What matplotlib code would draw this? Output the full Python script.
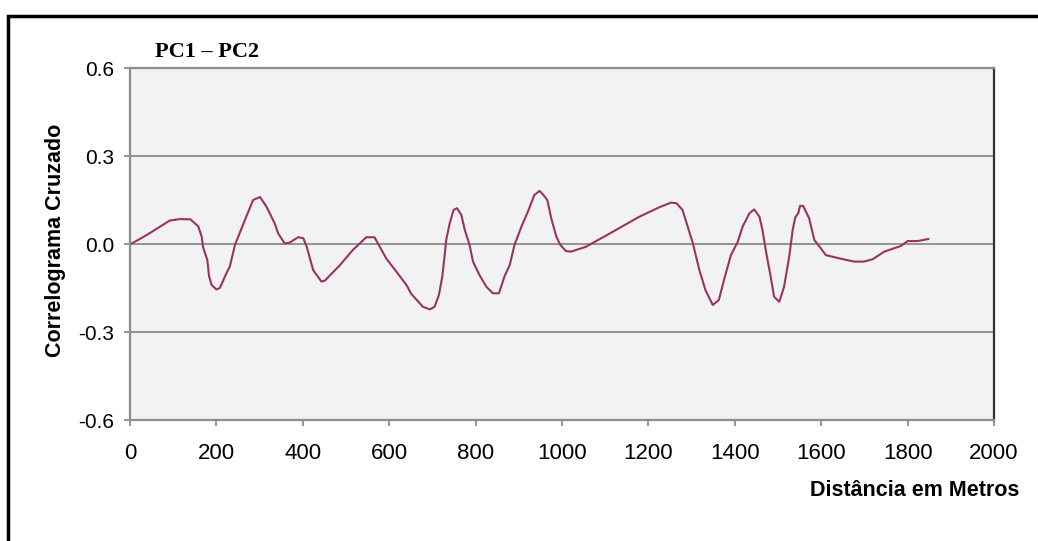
import matplotlib
matplotlib.use("Agg")
import matplotlib.pyplot as plt
from matplotlib.patches import Rectangle

# Data
dist = [2, 38, 92, 116, 140, 158, 166, 169, 179, 183, 189, 200, 208, 223, 231, 243,
        266, 285, 301, 316, 335, 343, 358, 370, 389, 401, 409, 424, 443, 451, 486,
        516, 547, 566, 578, 593, 617, 640, 651, 678, 694, 705, 715, 723, 728, 732,
        740, 749, 757, 767, 775, 786, 794, 809, 825, 840, 854, 867, 879, 890, 906,
        921, 936, 948, 957, 966, 975, 987, 996, 1009, 1021, 1056, 1118, 1179, 1225,
        1252, 1265, 1279, 1291, 1303, 1318, 1332, 1349, 1363, 1376, 1391, 1407,
        1418, 1434, 1445, 1457, 1464, 1473, 1483, 1491, 1503, 1514, 1526, 1534,
        1540, 1547, 1551, 1558, 1572, 1584, 1611, 1642, 1676, 1699, 1719, 1746,
        1784, 1800, 1823, 1848]
corr = [0.0, 0.03, 0.08, 0.085, 0.084, 0.06, 0.025, -0.01, -0.055, -0.11, -0.14,
        -0.155, -0.15, -0.10, -0.077, -0.003, 0.082, 0.15, 0.16, 0.127, 0.07,
        0.036, 0.002, 0.005, 0.023, 0.02, -0.009, -0.089, -0.128, -0.125, -0.072,
        -0.02, 0.023, 0.023, -0.009, -0.049, -0.095, -0.14, -0.17, -0.214, -0.223,
        -0.214, -0.174, -0.11, -0.043, 0.014, 0.07, 0.116, 0.122, 0.099, 0.048,
        -0.003, -0.06, -0.106, -0.146, -0.168, -0.168, -0.11, -0.072, -0.003,
        0.059, 0.11, 0.167, 0.181, 0.167, 0.15, 0.088, 0.025, -0.003, -0.024,
        -0.026, -0.009, 0.042, 0.093, 0.125, 0.141, 0.139, 0.116, 0.059, 0.002,
        -0.089, -0.157, -0.208, -0.191, -0.117, -0.038, 0.008, 0.059, 0.105,
        0.118, 0.093, 0.048, -0.032, -0.111, -0.18, -0.197, -0.146, -0.043,
        0.048, 0.091, 0.105, 0.13, 0.13, 0.088, 0.014, -0.038, -0.049, -0.06,
        -0.06, -0.052, -0.026, -0.007, 0.01, 0.01, 0.017]

xticks = [0, 200, 400, 600, 800, 1000, 1200, 1400, 1600, 1800, 2000]
yticks = [-0.6, -0.3, 0.0, 0.3, 0.6]
ytick_labels = ["-0.6", "-0.3", "0.0", "0.3", "0.6"]

W, H = 1038, 541
fig = plt.figure(figsize=(W / 100, H / 100), dpi=100)
fig.patch.set_facecolor("white")

# Outer chart frame (extends past the right and bottom edges)
fig.patches.append(Rectangle((8 / W, -0.1), 1.2, 1 - 16 / H + 0.1,
                             transform=fig.transFigure, fill=False,
                             edgecolor="black", linewidth=2.5))

ax = fig.add_axes([130 / W, 1 - 420 / H, (994 - 130) / W, (420 - 68) / H])
ax.set_facecolor("#f2f2f2")
ax.plot(dist, corr, color="#993366", linewidth=1.5)

ax.set_xlim(0, 2000)
ax.set_ylim(-0.6, 0.6)
ax.set_xticks(xticks)
ax.set_yticks(yticks)
ax.set_yticklabels(ytick_labels)
ax.grid(axis="y", color="#8c8c8c", linewidth=1.3)
ax.set_axisbelow(True)

for side in ["left", "bottom", "top"]:
    ax.spines[side].set_color("#8c8c8c")
    ax.spines[side].set_linewidth(1.6)
ax.spines["right"].set_color("#333333")
ax.spines["right"].set_linewidth(1.6)

ax.tick_params(axis="both", direction="out", color="#8c8c8c", width=1.3,
               length=4.5)
ax.tick_params(axis="x", pad=12, labelsize=16)
ax.tick_params(axis="y", pad=7, labelsize=15)
for lbl in ax.get_xticklabels() + ax.get_yticklabels():
    lbl.set_fontfamily("Liberation Sans")

fig.text(1019 / W, 1 - 491 / H, "Distância em Metros", ha="right", va="center",
         fontsize=15.5, fontweight="bold", family="Liberation Sans")
fig.text(55 / W, 1 - 240 / H, "Correlograma Cruzado", ha="center", va="center",
         rotation=90, fontsize=15.5, fontweight="bold", family="Liberation Sans")
fig.text(155 / W, 1 - 52 / H, "PC1 – PC2", ha="left", va="center",
         fontsize=16, fontweight="bold", family="Liberation Serif")

fig.savefig("out.png", dpi=100)
